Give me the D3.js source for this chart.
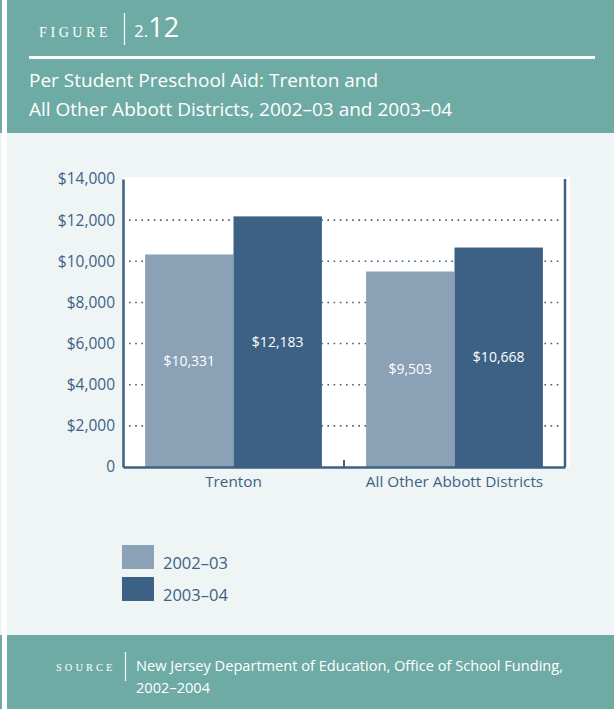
<!DOCTYPE html>
<html>
<head>
<meta charset="utf-8">
<script src="https://cdn.jsdelivr.net/npm/d3@7"></script>
<style>
  body { margin: 0; background: #fff; }
  svg { display: block; font-family: "Open Sans", Lato, sans-serif; }
</style>
</head>
<body>
<div id="chart"></div>
<script>
// data
const categories = ["Trenton", "All Other Abbott Districts"];
const years = ["2002–03", "2003–04"];
const values2002 = [10331, 9503];
const values2003 = [12183, 10668];
const yTicks = [0, 2000, 4000, 6000, 8000, 10000, 12000, 14000];

const W = 614, H = 709;
const teal = "#6eaba4", light = "#eff5f5", dark = "#3d6185", pale = "#8aa1b6";

const svg = d3.select("#chart").append("svg").attr("width", W).attr("height", H);

// panels
svg.append("rect").attr("x", 0).attr("y", 0).attr("width", W).attr("height", H).attr("fill", "#fff");
svg.append("rect").attr("x", 7).attr("y", 0).attr("width", W - 7).attr("height", 133).attr("fill", teal);
svg.append("rect").attr("x", 0).attr("y", 0).attr("width", 2).attr("height", 133).attr("fill", teal);
svg.append("rect").attr("x", 7).attr("y", 133).attr("width", W - 7).attr("height", 502).attr("fill", light);
svg.append("rect").attr("x", 0).attr("y", 133).attr("width", 2).attr("height", 502).attr("fill", light);
svg.append("rect").attr("x", 7).attr("y", 635).attr("width", W - 7).attr("height", H - 635).attr("fill", teal);
svg.append("rect").attr("x", 0).attr("y", 635).attr("width", 2).attr("height", H - 635).attr("fill", teal);

// header
svg.append("text").attr("x", 39).attr("y", 37)
  .attr("fill", "#fff").attr("font-family", "'Liberation Serif', 'DejaVu Serif', serif")
  .attr("font-size", 14).attr("letter-spacing", 3.6).text("FIGURE");
svg.append("line").attr("x1", 124.5).attr("x2", 124.5).attr("y1", 13).attr("y2", 45)
  .attr("stroke", "#fff").attr("stroke-width", 1.2);
const fig = svg.append("text").attr("x", 134).attr("y", 37).attr("fill", "#fff");
fig.append("tspan").attr("font-size", 17).text("2.");
fig.append("tspan").attr("font-size", 27).text("12");
svg.append("line").attr("x1", 29).attr("x2", 595).attr("y1", 57.5).attr("y2", 57.5)
  .attr("stroke", "#fff").attr("stroke-width", 3);
svg.append("text").attr("x", 29).attr("y", 87).attr("fill", "#fff").attr("font-size", 19)
  .text("Per Student Preschool Aid: Trenton and");
svg.append("text").attr("x", 29).attr("y", 116).attr("fill", "#fff").attr("font-size", 19)
  .text("All Other Abbott Districts, 2002–03 and 2003–04");

// chart
const pLeft = 123, pRight = 565, pTop = 179, pBottom = 467;

const x = d3.scaleBand().domain(categories).range([pLeft, pRight])
  .paddingInner(0.2).paddingOuter(0.1);
const xs = d3.scaleBand().domain(years).range([0, x.bandwidth()]);
const y = d3.scaleLinear().domain([0, 14000]).range([pBottom, pTop]);

svg.append("rect").attr("x", pLeft).attr("y", pTop - 2).attr("width", pRight - pLeft + 5)
  .attr("height", pBottom - pTop + 2).attr("fill", "#fff");

// dotted grid
svg.append("g").selectAll("line").data(yTicks.filter(d => d > 0 && d < 14000)).join("line")
  .attr("x1", pLeft + 6).attr("x2", pRight - 2)
  .attr("y1", d => y(d)).attr("y2", d => y(d))
  .attr("stroke", dark).attr("stroke-width", 1.6)
  .attr("stroke-dasharray", "1.6,4.6");

const rows = categories.map((c, i) => ({ cat: c, vals: [values2002[i], values2003[i]] }));

const groups = svg.append("g").selectAll("g").data(rows).join("g")
  .attr("transform", d => `translate(${x(d.cat)},0)`);

groups.selectAll("rect").data(d => d.vals.map((v, j) => ({ year: years[j], v: v }))).join("rect")
  .attr("x", d => xs(d.year)).attr("width", xs.bandwidth())
  .attr("y", d => y(d.v)).attr("height", d => y(0) - y(d.v))
  .attr("fill", d => d.year === years[0] ? pale : dark);

groups.selectAll("text.val").data(d => d.vals.map((v, j) => ({ year: years[j], v: v }))).join("text")
  .attr("class", "val")
  .attr("x", d => xs(d.year) + xs.bandwidth() / 2)
  .attr("y", d => (y(d.v) + y(0)) / 2 + 5)
  .attr("text-anchor", "middle").attr("fill", "#fff").attr("font-size", 14)
  .text(d => "$" + d3.format(",")(d.v));

// axes
const yAxis = d3.axisLeft(y).tickValues(yTicks).tickSize(0).tickPadding(8)
  .tickFormat(d => d === 0 ? "0" : "$" + d3.format(",")(d));
const ya = svg.append("g").attr("transform", `translate(${pLeft},0)`).call(yAxis);
ya.select(".domain").attr("stroke", dark).attr("stroke-width", 2.5);
ya.selectAll("text").attr("fill", dark).attr("font-size", 15.5)
  .attr("font-family", "'Open Sans', Lato, sans-serif");

svg.append("line").attr("x1", pRight).attr("x2", pRight).attr("y1", pTop).attr("y2", pBottom)
  .attr("stroke", dark).attr("stroke-width", 2.5);

const xAxis = d3.axisBottom(x).tickSize(0).tickPadding(9);
const xa = svg.append("g").attr("transform", `translate(0,${pBottom})`).call(xAxis);
xa.select(".domain").attr("stroke", dark).attr("stroke-width", 2.5);
xa.selectAll("text").attr("fill", dark).attr("font-size", 15.3)
  .attr("font-family", "'Open Sans', Lato, sans-serif");

// separator tick between categories
const mid = (x(categories[0]) + x.bandwidth() + x(categories[1])) / 2;
svg.append("line").attr("x1", mid).attr("x2", mid).attr("y1", pBottom).attr("y2", pBottom - 7)
  .attr("stroke", dark).attr("stroke-width", 2);

// legend
const legend = svg.append("g").selectAll("g").data(years).join("g")
  .attr("transform", (d, i) => `translate(122,${545 + i * 32})`);
legend.append("rect").attr("width", 32).attr("height", 24)
  .attr("fill", (d, i) => i === 0 ? pale : dark);
legend.append("text").attr("x", 41).attr("y", 24).attr("fill", dark).attr("font-size", 16.5)
  .text(d => d);

// footer
svg.append("text").attr("x", 56).attr("y", 671)
  .attr("fill", "#fff").attr("font-family", "'Liberation Serif', 'DejaVu Serif', serif")
  .attr("font-size", 10.5).attr("letter-spacing", 3).text("SOURCE");
svg.append("line").attr("x1", 125.5).attr("x2", 125.5).attr("y1", 652).attr("y2", 681)
  .attr("stroke", "#fff").attr("stroke-width", 1.2);
svg.append("text").attr("x", 136).attr("y", 671).attr("fill", "#fff").attr("font-size", 14.6)
  .text("New Jersey Department of Education, Office of School Funding,");
svg.append("text").attr("x", 136).attr("y", 693).attr("fill", "#fff").attr("font-size", 14.6)
  .text("2002–2004");
</script>
</body>
</html>
